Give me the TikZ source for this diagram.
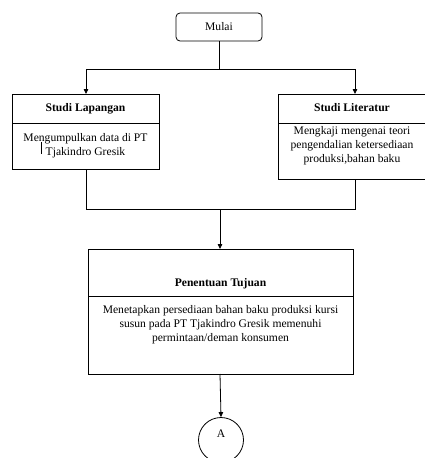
\documentclass[tikz,border=0pt]{standalone}
\usepackage{fontspec}
\setmainfont{Liberation Serif}
\usetikzlibrary{arrows.meta}
\begin{document}
\begin{tikzpicture}[x=1pt,y=-1pt,
  line width=0.8pt,
  box/.style={draw,rectangle,inner sep=0pt},
  txt/.style={align=center,font=\rmfamily\fontsize{11.6}{14}\selectfont,inner sep=0pt},
  ttl/.style={align=center,font=\rmfamily\fontsize{11.6}{14}\selectfont\bfseries,inner sep=0pt},
  arr/.style={-{Triangle[length=5pt,width=4.5pt]}}
]
\useasboundingbox (0,0) rectangle (425,458);
% start
\node[box,rounded corners=4pt,minimum width=86pt,minimum height=28pt] (mulai) at (219,27) {};
\node[txt] (mulaiT) at (219,27) {Mulai};
% left box
\node[box,minimum width=147pt,minimum height=75pt] (lap) at (85.5,131.5) {};
\draw (12,123) -- (159,123);
\node[ttl] (lapT) at (85.5,109) {Studi Lapangan};
\node[txt] (lapB) at (85.5,146) {Mengumpulkan data di PT\\Tjakindro Gresik};
\draw[line width=0.6pt] (41,142) -- (41,154);
% right box
\node[box,minimum width=148pt,minimum height=85pt] (lit) at (352,136.5) {};
\draw (278,123) -- (426,123);
\node[ttl] (litT) at (352,108) {Studi Literatur};
\node[txt] (litB) at (352,146) {Mengkaji mengenai teori\\pengendalian ketersediaan\\produksi,bahan baku};
% goal box
\node[box,minimum width=265pt,minimum height=125pt] (goal) at (220.5,311.5) {};
\draw (88,296) -- (353,296);
\node[ttl] (goalT) at (220.5,284) {Penentuan Tujuan};
\node[txt] (goalB) at (220.5,325) {Menetapkan persediaan bahan baku produksi kursi\\susun pada PT Tjakindro Gresik memenuhi\\permintaan/deman konsumen};
% connector A
\node[draw,circle,minimum size=45pt,inner sep=0pt] (A) at (221,440) {};
\node[txt] (AT) at (221,434) {A};
% coordinates
\coordinate (j1) at (219,69);
\coordinate (jl) at (86,69);
\coordinate (jr) at (355,69);
\coordinate (lt) at (86,94);
\coordinate (rt) at (355,94);
\coordinate (lb) at (86,169);
\coordinate (rb) at (355,179);
\coordinate (ml) at (86,209);
\coordinate (mr) at (355,209);
\coordinate (mc) at (220,209);
\coordinate (gt) at (220,249);
\coordinate (gb) at (220,374);
% connectors
\draw (mulai.south) -- (j1);
\draw[arr] (jl) -- (jr) (jl) -- (lt);
\draw[arr] (jr) -- (rt);
\draw (lb) -- (ml) -- (mr) -- (rb);
\draw[arr] (mc) -- (gt);
\draw[arr] (gb) -- (A.north);
\end{tikzpicture}
\end{document}
